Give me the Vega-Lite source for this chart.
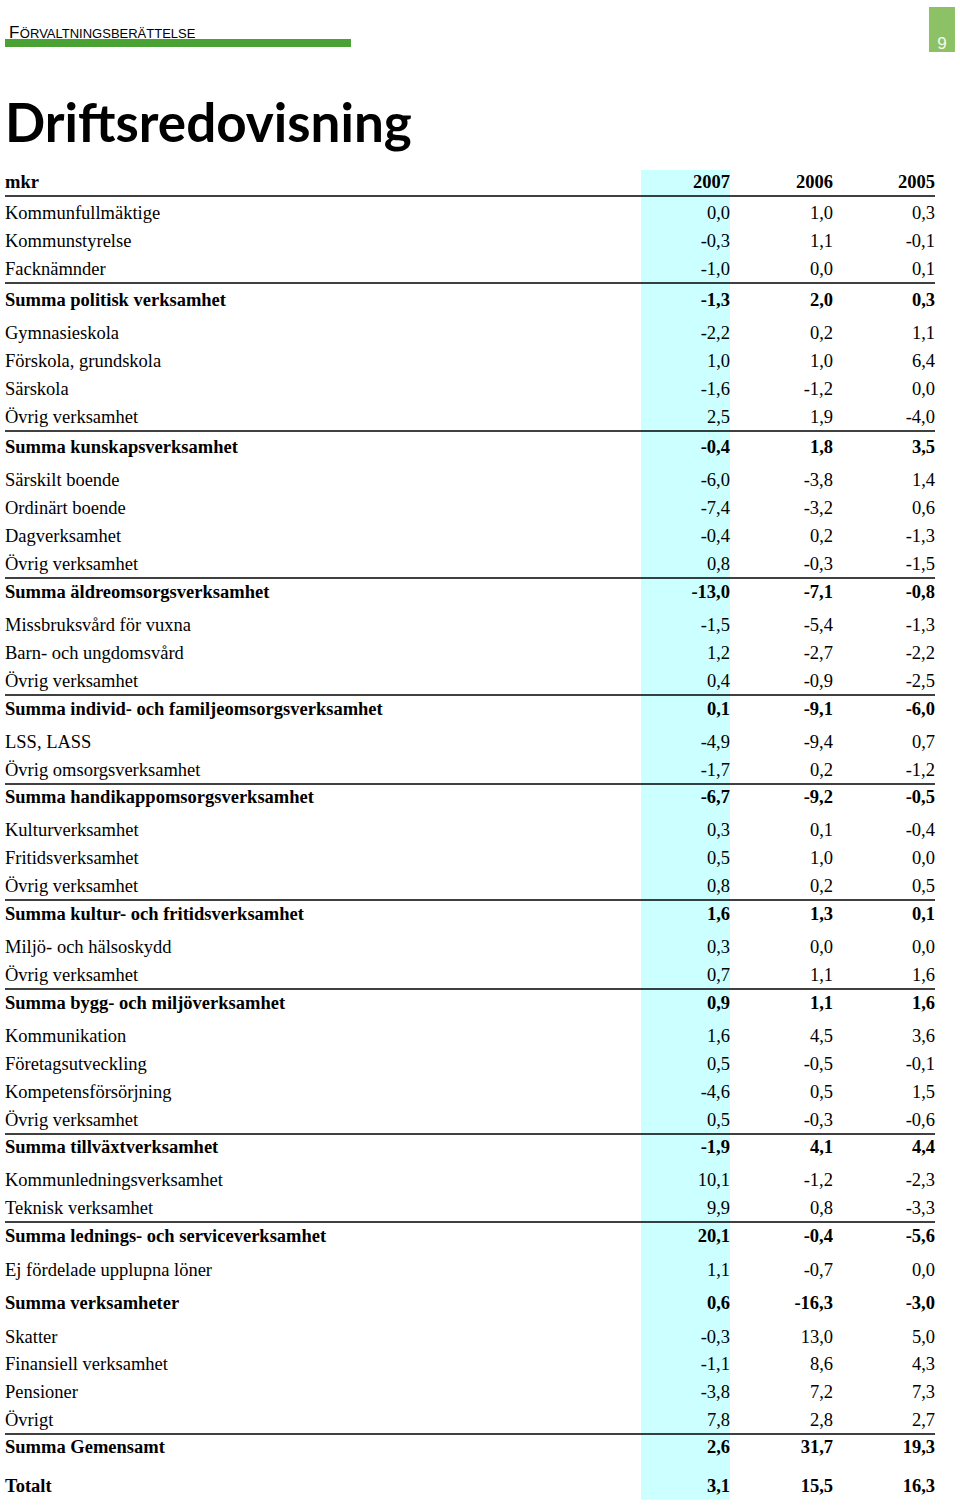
{
  "$schema": "https://vega.github.io/schema/vega-lite/v6.json",
  "width": 960,
  "height": 1505,
  "autosize": {"type": "fit", "contains": "padding"},
  "padding": 0,
  "background": "white",
  "config": {
    "view": {"stroke": null},
    "locale": {"number": {"decimal": ",", "thousands": " ", "grouping": [3], "currency": ["", " kr"], "minus": "-"}},
    "text": {"font": "Liberation Serif", "fontSize": 18.5, "color": "#000000"}
  },
  "datasets": {
    "rows": [
      {"r": 0, "label": "mkr", "kind": "head"},
      {"r": 1, "label": "Kommunfullmäktige", "kind": "item", "2007": 0.0, "2006": 1.0, "2005": 0.3},
      {"r": 2, "label": "Kommunstyrelse", "kind": "item", "2007": -0.3, "2006": 1.1, "2005": -0.1},
      {"r": 3, "label": "Facknämnder", "kind": "item", "2007": -1.0, "2006": 0.0, "2005": 0.1},
      {"r": 4, "label": "Summa politisk verksamhet", "kind": "sum", "2007": -1.3, "2006": 2.0, "2005": 0.3},
      {"r": 5, "label": "Gymnasieskola", "kind": "item", "2007": -2.2, "2006": 0.2, "2005": 1.1},
      {"r": 6, "label": "Förskola, grundskola", "kind": "item", "2007": 1.0, "2006": 1.0, "2005": 6.4},
      {"r": 7, "label": "Särskola", "kind": "item", "2007": -1.6, "2006": -1.2, "2005": 0.0},
      {"r": 8, "label": "Övrig verksamhet", "kind": "item", "2007": 2.5, "2006": 1.9, "2005": -4.0},
      {"r": 9, "label": "Summa kunskapsverksamhet", "kind": "sum", "2007": -0.4, "2006": 1.8, "2005": 3.5},
      {"r": 10, "label": "Särskilt boende", "kind": "item", "2007": -6.0, "2006": -3.8, "2005": 1.4},
      {"r": 11, "label": "Ordinärt boende", "kind": "item", "2007": -7.4, "2006": -3.2, "2005": 0.6},
      {"r": 12, "label": "Dagverksamhet", "kind": "item", "2007": -0.4, "2006": 0.2, "2005": -1.3},
      {"r": 13, "label": "Övrig verksamhet", "kind": "item", "2007": 0.8, "2006": -0.3, "2005": -1.5},
      {"r": 14, "label": "Summa äldreomsorgsverksamhet", "kind": "sum", "2007": -13.0, "2006": -7.1, "2005": -0.8},
      {"r": 15, "label": "Missbruksvård för vuxna", "kind": "item", "2007": -1.5, "2006": -5.4, "2005": -1.3},
      {"r": 16, "label": "Barn- och ungdomsvård", "kind": "item", "2007": 1.2, "2006": -2.7, "2005": -2.2},
      {"r": 17, "label": "Övrig verksamhet", "kind": "item", "2007": 0.4, "2006": -0.9, "2005": -2.5},
      {"r": 18, "label": "Summa individ- och familjeomsorgsverksamhet", "kind": "sum", "2007": 0.1, "2006": -9.1, "2005": -6.0},
      {"r": 19, "label": "LSS, LASS", "kind": "item", "2007": -4.9, "2006": -9.4, "2005": 0.7},
      {"r": 20, "label": "Övrig omsorgsverksamhet", "kind": "item", "2007": -1.7, "2006": 0.2, "2005": -1.2},
      {"r": 21, "label": "Summa handikappomsorgsverksamhet", "kind": "sum", "2007": -6.7, "2006": -9.2, "2005": -0.5},
      {"r": 22, "label": "Kulturverksamhet", "kind": "item", "2007": 0.3, "2006": 0.1, "2005": -0.4},
      {"r": 23, "label": "Fritidsverksamhet", "kind": "item", "2007": 0.5, "2006": 1.0, "2005": 0.0},
      {"r": 24, "label": "Övrig verksamhet", "kind": "item", "2007": 0.8, "2006": 0.2, "2005": 0.5},
      {"r": 25, "label": "Summa kultur- och fritidsverksamhet", "kind": "sum", "2007": 1.6, "2006": 1.3, "2005": 0.1},
      {"r": 26, "label": "Miljö- och hälsoskydd", "kind": "item", "2007": 0.3, "2006": 0.0, "2005": 0.0},
      {"r": 27, "label": "Övrig verksamhet", "kind": "item", "2007": 0.7, "2006": 1.1, "2005": 1.6},
      {"r": 28, "label": "Summa bygg- och miljöverksamhet", "kind": "sum", "2007": 0.9, "2006": 1.1, "2005": 1.6},
      {"r": 29, "label": "Kommunikation", "kind": "item", "2007": 1.6, "2006": 4.5, "2005": 3.6},
      {"r": 30, "label": "Företagsutveckling", "kind": "item", "2007": 0.5, "2006": -0.5, "2005": -0.1},
      {"r": 31, "label": "Kompetensförsörjning", "kind": "item", "2007": -4.6, "2006": 0.5, "2005": 1.5},
      {"r": 32, "label": "Övrig verksamhet", "kind": "item", "2007": 0.5, "2006": -0.3, "2005": -0.6},
      {"r": 33, "label": "Summa tillväxtverksamhet", "kind": "sum", "2007": -1.9, "2006": 4.1, "2005": 4.4},
      {"r": 34, "label": "Kommunledningsverksamhet", "kind": "item", "2007": 10.1, "2006": -1.2, "2005": -2.3},
      {"r": 35, "label": "Teknisk verksamhet", "kind": "item", "2007": 9.9, "2006": 0.8, "2005": -3.3},
      {"r": 36, "label": "Summa lednings- och serviceverksamhet", "kind": "sum", "2007": 20.1, "2006": -0.4, "2005": -5.6},
      {"r": 37, "label": "Ej fördelade upplupna löner", "kind": "item", "2007": 1.1, "2006": -0.7, "2005": 0.0},
      {"r": 38, "label": "Summa verksamheter", "kind": "sum", "2007": 0.6, "2006": -16.3, "2005": -3.0},
      {"r": 39, "label": "Skatter", "kind": "item", "2007": -0.3, "2006": 13.0, "2005": 5.0},
      {"r": 40, "label": "Finansiell verksamhet", "kind": "item", "2007": -1.1, "2006": 8.6, "2005": 4.3},
      {"r": 41, "label": "Pensioner", "kind": "item", "2007": -3.8, "2006": 7.2, "2005": 7.3},
      {"r": 42, "label": "Övrigt", "kind": "item", "2007": 7.8, "2006": 2.8, "2005": 2.7},
      {"r": 43, "label": "Summa Gemensamt", "kind": "sum", "2007": 2.6, "2006": 31.7, "2005": 19.3},
      {"r": 44, "label": "Totalt", "kind": "sum", "2007": 3.1, "2006": 15.5, "2005": 16.3}
    ],
    "years": [
      {"year": "2007", "col": 1},
      {"year": "2006", "col": 2},
      {"year": "2005", "col": 3}
    ],
    "seps": [
      {"after": 0}, {"after": 3}, {"after": 8}, {"after": 13}, {"after": 17}, {"after": 20},
      {"after": 24}, {"after": 27}, {"after": 32}, {"after": 35}, {"after": 42}
    ]
  },
  "layer": [
    {
      "data": {"name": "years"},
      "transform": [{"filter": "datum.year == '2007'"}],
      "mark": {"type": "rect", "color": "#ccffff", "xOffset": -89},
      "encoding": {
        "x": {"field": "col", "type": "quantitative", "axis": null, "scale": {"domain": [0, 1, 2, 3], "range": [5, 730, 833, 935], "zero": false, "nice": false}},
        "x2": {"field": "col"},
        "y": {"datum": -0.39, "type": "quantitative", "axis": null, "scale": {"domain": [-5, -4, -1, 0, 1, 2, 3, 4, 5, 6, 7, 8, 9, 10, 11, 12, 13, 14, 15, 16, 17, 18, 19, 20, 21, 22, 23, 24, 25, 26, 27, 28, 29, 30, 31, 32, 33, 34, 35, 36, 37, 38, 39, 40, 41, 42, 43, 44], "range": [7, 38, 142, 188, 219, 247, 275, 306, 339, 367, 395, 423, 453, 486, 514, 542, 570, 598, 631, 659, 687, 715, 748, 776, 803, 836, 864, 892, 920, 953, 981, 1009, 1042, 1070, 1098, 1126, 1153, 1186, 1214, 1242, 1276, 1309, 1343, 1370, 1398, 1426, 1453, 1492], "zero": false, "nice": false}},
        "y2": {"datum": 44.2}
      }
    },
    {
      "data": {"name": "seps"},
      "mark": {"type": "rule", "color": "#000000", "strokeWidth": 1.6, "yOffset": 8},
      "encoding": {
        "x": {"datum": 0, "type": "quantitative"},
        "x2": {"datum": 3},
        "y": {"field": "after", "type": "quantitative"}
      }
    },
    {
      "data": {"name": "rows"},
      "transform": [{"filter": "datum.kind == 'item'"}],
      "mark": {"type": "text", "align": "left", "baseline": "alphabetic"},
      "encoding": {
        "x": {"datum": 0, "type": "quantitative"},
        "y": {"field": "r", "type": "quantitative"},
        "text": {"field": "label"}
      }
    },
    {
      "data": {"name": "rows"},
      "transform": [{"filter": "datum.kind != 'item'"}],
      "mark": {"type": "text", "align": "left", "baseline": "alphabetic", "fontWeight": "bold"},
      "encoding": {
        "x": {"datum": 0, "type": "quantitative"},
        "y": {"field": "r", "type": "quantitative"},
        "text": {"field": "label"}
      }
    },
    {
      "data": {"name": "rows"},
      "transform": [
        {"filter": "datum.kind == 'item'"},
        {"fold": ["2007", "2006", "2005"], "as": ["year", "value"]},
        {"lookup": "year", "from": {"data": {"name": "years"}, "key": "year", "fields": ["col"]}}
      ],
      "mark": {"type": "text", "align": "right", "baseline": "alphabetic"},
      "encoding": {
        "x": {"field": "col", "type": "quantitative"},
        "y": {"field": "r", "type": "quantitative"},
        "text": {"field": "value", "type": "quantitative", "format": ".1f"}
      }
    },
    {
      "data": {"name": "rows"},
      "transform": [
        {"filter": "datum.kind == 'sum'"},
        {"fold": ["2007", "2006", "2005"], "as": ["year", "value"]},
        {"lookup": "year", "from": {"data": {"name": "years"}, "key": "year", "fields": ["col"]}}
      ],
      "mark": {"type": "text", "align": "right", "baseline": "alphabetic", "fontWeight": "bold"},
      "encoding": {
        "x": {"field": "col", "type": "quantitative"},
        "y": {"field": "r", "type": "quantitative"},
        "text": {"field": "value", "type": "quantitative", "format": ".1f"}
      }
    },
    {
      "data": {"name": "years"},
      "mark": {"type": "text", "align": "right", "baseline": "alphabetic", "fontWeight": "bold"},
      "encoding": {
        "x": {"field": "col", "type": "quantitative"},
        "y": {"datum": 0, "type": "quantitative"},
        "text": {"field": "year"}
      }
    },
    {
      "data": {"values": [{}]},
      "mark": {"type": "rect", "color": "#4aa235"},
      "encoding": {
        "x": {"datum": 0, "type": "quantitative"},
        "x2": {"datum": 0.4772},
        "y": {"datum": -3.971, "type": "quantitative"},
        "y2": {"datum": -3.74}
      }
    },
    {
      "data": {"values": [{}]},
      "mark": {"type": "rect", "color": "#8cc265"},
      "encoding": {
        "x": {"datum": 2.941, "type": "quantitative"},
        "x2": {"datum": 3.196},
        "y": {"datum": -5, "type": "quantitative"},
        "y2": {"datum": -3.596}
      }
    },
    {
      "data": {"values": [{}]},
      "mark": {"type": "text", "text": "9", "font": "Liberation Sans", "fontSize": 17, "color": "#f4faee", "align": "center", "baseline": "alphabetic"},
      "encoding": {
        "x": {"datum": 3.069, "type": "quantitative"},
        "y": {"datum": -3.68, "type": "quantitative"}
      }
    },
    {
      "data": {"values": [{}]},
      "mark": {"type": "text", "text": "F", "font": "Liberation Sans", "fontSize": 17, "align": "left", "baseline": "alphabetic"},
      "encoding": {
        "x": {"datum": 0.0055, "type": "quantitative"},
        "y": {"datum": -4, "type": "quantitative"}
      }
    },
    {
      "data": {"values": [{}]},
      "mark": {"type": "text", "text": "ÖRVALTNINGSBERÄTTELSE", "font": "Liberation Sans", "fontSize": 13, "align": "left", "baseline": "alphabetic"},
      "encoding": {
        "x": {"datum": 0.0205, "type": "quantitative"},
        "y": {"datum": -4, "type": "quantitative"}
      }
    },
    {
      "data": {"values": [{}]},
      "mark": {"type": "text", "text": "Driftsredovisning", "font": "Lato", "fontSize": 53, "fontWeight": "bold", "align": "left", "baseline": "alphabetic"},
      "encoding": {
        "x": {"datum": 0, "type": "quantitative"},
        "y": {"datum": -1, "type": "quantitative"}
      }
    }
  ]
}
